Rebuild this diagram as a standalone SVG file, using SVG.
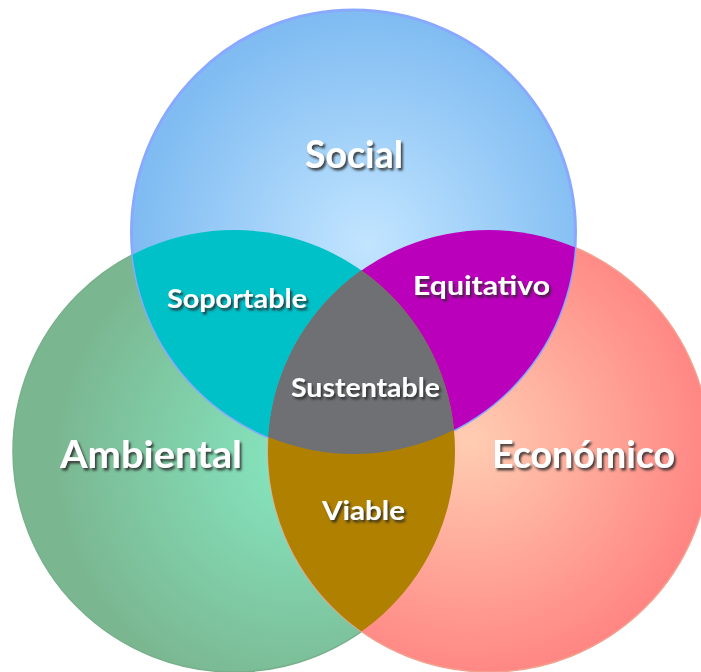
<svg xmlns="http://www.w3.org/2000/svg" width="701" height="672" viewBox="0 0 701 672">
<defs>
<radialGradient id="gS" gradientUnits="userSpaceOnUse" cx="368" cy="245" r="230">
<stop offset="0" stop-color="#c2e5ff"/>
<stop offset="1" stop-color="#80bcf2"/>
</radialGradient>
<radialGradient id="gA" gradientUnits="userSpaceOnUse" cx="300" cy="460" r="250">
<stop offset="0" stop-color="#86e8c2"/>
<stop offset="1" stop-color="#7ab690"/>
</radialGradient>
<radialGradient id="gE" gradientUnits="userSpaceOnUse" cx="470" cy="440" r="260">
<stop offset="0" stop-color="#ffcdb2"/>
<stop offset="1" stop-color="#ff7f7f"/>
</radialGradient>
<clipPath id="cS"><circle cx="353.5" cy="232" r="222"/></clipPath>
<clipPath id="cA"><circle cx="234" cy="451" r="221"/></clipPath>
<clipPath id="cE"><circle cx="489" cy="451" r="221"/></clipPath>
<filter id="sh" x="-10%" y="-30%" width="130%" height="170%">
<feDropShadow dx="2" dy="2.5" stdDeviation="0.9" flood-color="#2a2a2a" flood-opacity="0.85"/>
</filter>
<style>
.lbl{font-family:"Lato","Open Sans","DejaVu Sans",sans-serif;font-weight:bold;fill:#ffffff;text-anchor:middle;filter:url(#sh)}
.big{font-size:38px}
.small{font-size:27px}
</style>
</defs>
<g id="ambiental">
<circle cx="234" cy="451" r="221" fill="url(#gA)" stroke="#79b08c" stroke-width="1.5"/>
</g>
<g id="economico">
<circle cx="489" cy="451" r="221" fill="url(#gE)" stroke="#f3a08e" stroke-width="1.5"/>
</g>
<g id="social">
<circle cx="353.5" cy="232" r="222" fill="url(#gS)" stroke="#88a9ff" stroke-width="3"/>
</g>
<g id="soportable">
<g clip-path="url(#cS)"><circle cx="234" cy="451" r="221" fill="#00c0c8"/></g>
</g>
<g id="equitativo">
<g clip-path="url(#cS)"><circle cx="489" cy="451" r="221" fill="#bb00bb"/></g>
</g>
<g id="viable">
<g clip-path="url(#cA)"><circle cx="489" cy="451" r="221" fill="#b08000"/></g>
</g>
<g id="sustentable">
<g clip-path="url(#cS)"><g clip-path="url(#cA)"><circle cx="489" cy="451" r="221" fill="#6e7074"/></g></g>
</g>
<g id="connectors"></g>
<g id="labels">
<text class="lbl big" x="354" y="168" textLength="98" lengthAdjust="spacingAndGlyphs">Social</text>
<text class="lbl small" x="237" y="308" textLength="140" lengthAdjust="spacingAndGlyphs">Soportable</text>
<text class="lbl small" x="481.5" y="295" textLength="137" lengthAdjust="spacingAndGlyphs">Equitativo</text>
<text class="lbl small" x="365.5" y="397" textLength="149" lengthAdjust="spacingAndGlyphs">Sustentable</text>
<text class="lbl big" x="151" y="468" textLength="182" lengthAdjust="spacingAndGlyphs">Ambiental</text>
<text class="lbl big" x="583.5" y="468" textLength="183" lengthAdjust="spacingAndGlyphs">Económico</text>
<text class="lbl small" x="363.5" y="520" textLength="83" lengthAdjust="spacingAndGlyphs">Viable</text>
</g>
</svg>
